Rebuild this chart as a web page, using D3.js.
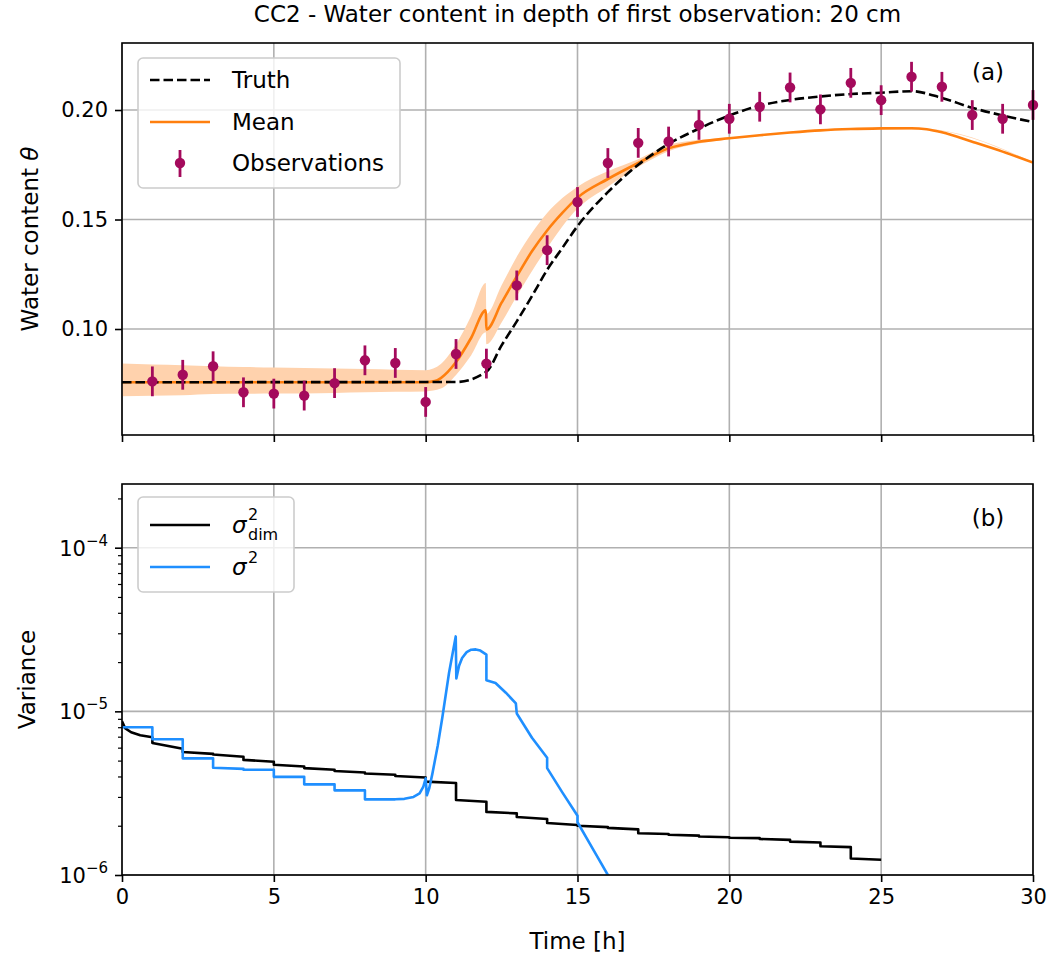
<!DOCTYPE html>
<html>
<head>
<meta charset="utf-8">
<script src="https://cdn.jsdelivr.net/npm/d3@7"></script>
<style>
  body { margin: 0; background: #fff; }
  text { font-family: "DejaVu Sans", sans-serif; fill: #000; }
</style>
</head>
<body>
<div id="chart"></div>
<script>
// ---- panel (a): water content ----
const obsTime = [1,2,3,4,5,6,7,8,9,10,11,12,13,14,15,16,17,18,19,20,21,22,23,24,25,26,27,28,29,30];
const obsValue = [0.0761,0.0791,0.0830,0.0711,0.0705,0.0696,0.0753,0.0857,0.0845,0.0667,
                  0.0886,0.0842,0.1199,0.1360,0.1580,0.1758,0.1850,0.1856,0.1932,0.1960,
                  0.2015,0.2103,0.2003,0.2124,0.2045,0.2152,0.2106,0.1977,0.1960,0.2023];
const obsError = 0.0068;

const truthTime  = [0, 11, 12, 12.5, 13, 13.5, 14, 14.5, 15, 16, 17, 18, 19, 20, 21, 22, 23, 24, 25, 26, 27, 28, 29, 30];
const truthValue = [0.0757,0.0758,0.0805,0.0925,0.1035,0.1150,0.1270,0.1370,0.1470,0.1625,0.1750,0.1845,0.1915,
                    0.1975,0.2020,0.2046,0.2062,0.2073,0.2079,0.2086,0.2055,0.2010,0.1975,0.1945];

const meanTime  = [0, 10, 10.3, 10.5, 11, 11.5, 11.98, 12.0, 12.5, 13, 13.5, 14, 14.5, 15, 16, 17, 18, 19, 20,
                   21, 22, 23, 24, 25, 26, 26.5, 27, 28, 29, 30];
const meanValue = [0.0757,0.0757,0.0762,0.0776,0.0849,0.0960,0.1085,0.0998,0.1120,0.1240,0.1355,0.1450,0.1530,
                   0.1600,0.1685,0.1758,0.1825,0.1855,0.1871,0.1885,0.1897,0.1907,0.1913,0.1916,0.1917,0.1912,
                   0.1898,0.1855,0.1810,0.1760];

const bandTime = [0,1,2,3,4,5,6,7,8,9,10,10.5,11,11.5,11.98,12,12.5,13,14,15,16,17,18,19,20,22,25,26.5,30];
const bandLow  = [0.0693,0.0695,0.0697,0.0703,0.0704,0.0705,0.0706,0.0708,0.0711,0.0713,0.0715,0.0728,0.0790,
                  0.0880,0.0985,0.0930,0.1030,0.1150,0.1370,0.1550,0.1650,0.1740,0.1812,0.1847,0.1867,0.1894,
                  0.1913,0.1910,0.1758];
const bandHigh = [0.0842,0.0838,0.0835,0.0830,0.0826,0.0824,0.0822,0.0820,0.0817,0.0814,0.0812,0.0840,0.0930,
                  0.1060,0.1210,0.1070,0.1200,0.1330,0.1530,0.1650,0.1720,0.1775,0.1840,0.1863,0.1875,0.1900,
                  0.1919,0.1914,0.1762];

// ---- panel (b): variance ----
const dimTime  = [0,0.1,0.3,0.6,1,1,2,2,3,3,4,4,5,5,6,6,7,7,8,8,9,9,10,10,11,11,12,12,13,13,14,14,15,15,
                  16,16,17,17,18,18,19,19,20,20,21,21,22,22,23,23,24,24,25];
const dimValue = [8.7e-6,7.9e-6,7.45e-6,7.15e-6,6.95e-6,6.4e-6,5.9e-6,5.65e-6,5.5e-6,5.45e-6,5.28e-6,5.05e-6,
                  4.92e-6,4.72e-6,4.6e-6,4.5e-6,4.4e-6,4.32e-6,4.23e-6,4.17e-6,4.1e-6,4.03e-6,3.94e-6,3.72e-6,
                  3.65e-6,2.87e-6,2.8e-6,2.43e-6,2.38e-6,2.26e-6,2.2e-6,2.08e-6,2.02e-6,2.0e-6,1.96e-6,1.94e-6,
                  1.9e-6,1.8e-6,1.78e-6,1.76e-6,1.74e-6,1.72e-6,1.70e-6,1.69e-6,1.68e-6,1.66e-6,1.64e-6,1.6e-6,
                  1.58e-6,1.5e-6,1.48e-6,1.26e-6,1.24e-6];

const sigTime  = [0,1,1,2,2,3,3,4,4,5,5,6,6,7,7,8,8,9,9.3,9.6,9.8,9.92,10.0,10.04,10.12,10.22,10.4,10.55,10.77,
                  10.99,11.01,11.1,11.2,11.35,11.5,11.65,11.8,12.0,12.0,12.3,12.64,12.97,13.0,13.5,14.0,14.0,
                  14.5,15.0,15.0,15.5,16.0,16.3];
const sigValue = [8.0e-6,8.0e-6,6.76e-6,6.76e-6,5.16e-6,5.16e-6,4.52e-6,4.45e-6,4.4e-6,4.4e-6,3.98e-6,3.98e-6,
                  3.58e-6,3.58e-6,3.29e-6,3.29e-6,2.9e-6,2.9e-6,2.92e-6,3.0e-6,3.15e-6,3.45e-6,3.9e-6,3.07e-6,
                  3.4e-6,4.15e-6,6.2e-6,9.2e-6,1.72e-5,2.87e-5,1.59e-5,1.9e-5,2.12e-5,2.3e-5,2.38e-5,2.39e-5,
                  2.35e-5,2.22e-5,1.55e-5,1.49e-5,1.3e-5,1.12e-5,9.7e-6,6.9e-6,5.2e-6,4.5e-6,3.2e-6,2.3e-6,
                  2.1e-6,1.45e-6,1.0e-6,0.8e-6];

const xTicks = [0,5,10,15,20,25,30];
const yTicksA = [0.10,0.15,0.20];
const yTicksB = [1e-6,1e-5,1e-4];

const W = 1057, H = 964;
const L = 122, R = 1033;
const aTop = 43, aBot = 435, bTop = 484, bBot = 875;
const textSize = '23px', tickSize = '21px';

const obsColor = '#a40a5c', meanColor = '#ff7f0e', bandColor = '#ffd2ad', sigColor = '#1f8fff', gridColor = '#b0b0b0';

const svg = d3.select('#chart').append('svg').attr('width', W).attr('height', H);

const x = d3.scaleLinear().domain([0, 30]).range([L, R]);
const yA = d3.scaleLinear().domain([0.0516, 0.2306]).range([aBot, aTop]);
const yB = d3.scaleLog().domain([1e-6, 2.45e-4]).range([bBot, bTop]);

const defs = svg.append('defs');
defs.append('clipPath').attr('id', 'clipA').append('rect')
  .attr('x', L).attr('y', aTop).attr('width', R - L).attr('height', aBot - aTop);
defs.append('clipPath').attr('id', 'clipB').append('rect')
  .attr('x', L).attr('y', bTop).attr('width', R - L).attr('height', bBot - bTop);

// grid
function grid(g, yScale, yTicks, top, bot) {
  g.selectAll('.gx').data(xTicks).enter().append('line')
    .attr('x1', d => x(d)).attr('x2', d => x(d)).attr('y1', top).attr('y2', bot)
    .attr('stroke', gridColor).attr('stroke-width', 1.6);
  g.selectAll('.gy').data(yTicks).enter().append('line')
    .attr('x1', L).attr('x2', R).attr('y1', d => yScale(d)).attr('y2', d => yScale(d))
    .attr('stroke', gridColor).attr('stroke-width', 1.6);
}
grid(svg.append('g'), yA, yTicksA, aTop, aBot);
grid(svg.append('g'), yB, yTicksB, bTop, bBot);

// ---- panel (a) ----
const gA = svg.append('g').attr('clip-path', 'url(#clipA)');

const band = bandTime.map((t, i) => ({t: t, lo: bandLow[i], hi: bandHigh[i]}));
gA.append('path').datum(band)
  .attr('d', d3.area().x(d => x(d.t)).y0(d => yA(d.lo)).y1(d => yA(d.hi)).curve(d3.curveMonotoneX))
  .attr('fill', bandColor);

const lineA = d3.line().x(d => x(d[0])).y(d => yA(d[1])).curve(d3.curveMonotoneX);
gA.append('path').datum(meanTime.map((t, i) => [t, meanValue[i]]))
  .attr('d', lineA).attr('fill', 'none').attr('stroke', meanColor).attr('stroke-width', 2.6);
gA.append('path').datum(truthTime.map((t, i) => [t, truthValue[i]]))
  .attr('d', lineA).attr('fill', 'none').attr('stroke', '#000').attr('stroke-width', 2.6)
  .attr('stroke-dasharray', '9.5,4');

const obs = obsTime.map((t, i) => ({t: t, v: obsValue[i]}));
const gObs = svg.append('g');
gObs.selectAll('.eb').data(obs).enter().append('line')
  .attr('x1', d => x(d.t)).attr('x2', d => x(d.t))
  .attr('y1', d => yA(d.v - obsError)).attr('y2', d => yA(d.v + obsError))
  .attr('stroke', obsColor).attr('stroke-width', 2.8);
gObs.selectAll('.pt').data(obs).enter().append('circle')
  .attr('cx', d => x(d.t)).attr('cy', d => yA(d.v)).attr('r', 5.2)
  .attr('fill', obsColor);

// ---- panel (b) ----
const gB = svg.append('g').attr('clip-path', 'url(#clipB)');
const lineB = d3.line().x(d => x(d[0])).y(d => yB(d[1]));
gB.append('path').datum(dimTime.map((t, i) => [t, dimValue[i]]))
  .attr('d', lineB).attr('fill', 'none').attr('stroke', '#000').attr('stroke-width', 2.6)
  .attr('stroke-linejoin', 'round');
gB.append('path').datum(sigTime.map((t, i) => [t, sigValue[i]]))
  .attr('d', lineB).attr('fill', 'none').attr('stroke', sigColor).attr('stroke-width', 2.6)
  .attr('stroke-linejoin', 'round');

// ---- axes ----
function styleAxis(g) {
  g.select('.domain').remove();
  g.selectAll('.tick line').attr('stroke', '#000').attr('stroke-width', 1.6);
  g.selectAll('.tick text').style('font-size', tickSize).style('font-family', '"DejaVu Sans", sans-serif');
}

svg.append('g').attr('transform', `translate(0,${aBot})`)
  .call(d3.axisBottom(x).tickValues(xTicks).tickSize(7).tickFormat(''))
  .call(styleAxis);
svg.append('g').attr('transform', `translate(${L},0)`)
  .call(d3.axisLeft(yA).tickValues(yTicksA).tickSize(7).tickPadding(7).tickFormat(d3.format('.2f')))
  .call(styleAxis);

svg.append('g').attr('transform', `translate(0,${bBot})`)
  .call(d3.axisBottom(x).tickValues(xTicks).tickSize(7).tickPadding(7).tickFormat(d3.format('d')))
  .call(styleAxis);

const minorB = [];
[-6, -5, -4].forEach(e => { for (let k = 2; k <= 9; k++) { const v = k * Math.pow(10, e); if (v < 2.45e-4) minorB.push(v); } });
svg.append('g').attr('transform', `translate(${L},0)`)
  .call(d3.axisLeft(yB).tickValues(minorB).tickSize(4).tickFormat(''))
  .call(styleAxis)
  .selectAll('.tick line').attr('stroke-width', 1.2);
svg.append('g').attr('transform', `translate(${L},0)`)
  .call(d3.axisLeft(yB).tickValues(yTicksB).tickSize(7).tickFormat(''))
  .call(styleAxis);

const expLabels = svg.append('g').selectAll('text').data(yTicksB).enter().append('text')
  .attr('x', 108).attr('y', d => yB(d) + 8).attr('text-anchor', 'end').style('font-size', tickSize);
expLabels.append('tspan').text('10');
expLabels.append('tspan').attr('dy', -10).style('font-size', '15px')
  .text(d => '\u2212' + Math.round(-Math.log10(d)));

// spines
[[aTop, aBot], [bTop, bBot]].forEach(p => {
  svg.append('rect').attr('x', L).attr('y', p[0]).attr('width', R - L).attr('height', p[1] - p[0])
    .attr('fill', 'none').attr('stroke', '#000').attr('stroke-width', 1.6);
});

// labels
svg.append('text').attr('x', (L + R) / 2).attr('y', 22).attr('text-anchor', 'middle')
  .style('font-size', textSize).text('CC2 - Water content in depth of first observation: 20 cm');
svg.append('text').attr('x', (L + R) / 2).attr('y', 949).attr('text-anchor', 'middle')
  .style('font-size', textSize).text('Time [h]');

const yLabA = svg.append('text').attr('transform', `translate(38,${(aTop + aBot) / 2}) rotate(-90)`)
  .attr('text-anchor', 'middle').style('font-size', textSize);
yLabA.append('tspan').text('Water content ');
yLabA.append('tspan').style('font-style', 'italic').text('\u03b8');

svg.append('text').attr('transform', `translate(35,${(bTop + bBot) / 2}) rotate(-90)`)
  .attr('text-anchor', 'middle').style('font-size', textSize).text('Variance');

svg.append('text').attr('x', 988).attr('y', 80).attr('text-anchor', 'middle').style('font-size', textSize).text('(a)');
svg.append('text').attr('x', 988).attr('y', 526).attr('text-anchor', 'middle').style('font-size', textSize).text('(b)');

// ---- legends ----
const legA = svg.append('g');
legA.append('rect').attr('x', 138).attr('y', 58).attr('width', 262).attr('height', 130).attr('rx', 5)
  .attr('fill', '#fff').attr('fill-opacity', 0.8).attr('stroke', '#cccccc').attr('stroke-width', 1.6);
legA.append('line').attr('x1', 150).attr('x2', 210).attr('y1', 80).attr('y2', 80)
  .attr('stroke', '#000').attr('stroke-width', 2.6).attr('stroke-dasharray', '9.5,4');
legA.append('line').attr('x1', 150).attr('x2', 210).attr('y1', 122).attr('y2', 122)
  .attr('stroke', meanColor).attr('stroke-width', 2.6);
legA.append('line').attr('x1', 180).attr('x2', 180).attr('y1', 150).attr('y2', 177)
  .attr('stroke', obsColor).attr('stroke-width', 2.8);
legA.append('circle').attr('cx', 180).attr('cy', 163).attr('r', 5.2).attr('fill', obsColor);
[['Truth', 80], ['Mean', 122], ['Observations', 163]].forEach(e => {
  legA.append('text').attr('x', 232).attr('y', e[1] + 8).style('font-size', textSize).text(e[0]);
});

const legB = svg.append('g');
legB.append('rect').attr('x', 138).attr('y', 497).attr('width', 156).attr('height', 95).attr('rx', 5)
  .attr('fill', '#fff').attr('fill-opacity', 0.8).attr('stroke', '#cccccc').attr('stroke-width', 1.6);
legB.append('line').attr('x1', 150).attr('x2', 210).attr('y1', 525).attr('y2', 525)
  .attr('stroke', '#000').attr('stroke-width', 2.6);
legB.append('line').attr('x1', 150).attr('x2', 210).attr('y1', 567).attr('y2', 567)
  .attr('stroke', sigColor).attr('stroke-width', 2.6);
legB.append('text').attr('x', 232).attr('y', 533).style('font-size', textSize).style('font-style', 'italic').text('\u03c3');
legB.append('text').attr('x', 248).attr('y', 520).style('font-size', '16px').text('2');
legB.append('text').attr('x', 248).attr('y', 540).style('font-size', '16px').text('dim');
legB.append('text').attr('x', 232).attr('y', 575).style('font-size', textSize).style('font-style', 'italic').text('\u03c3');
legB.append('text').attr('x', 248).attr('y', 563).style('font-size', '16px').text('2');
</script>
</body>
</html>
